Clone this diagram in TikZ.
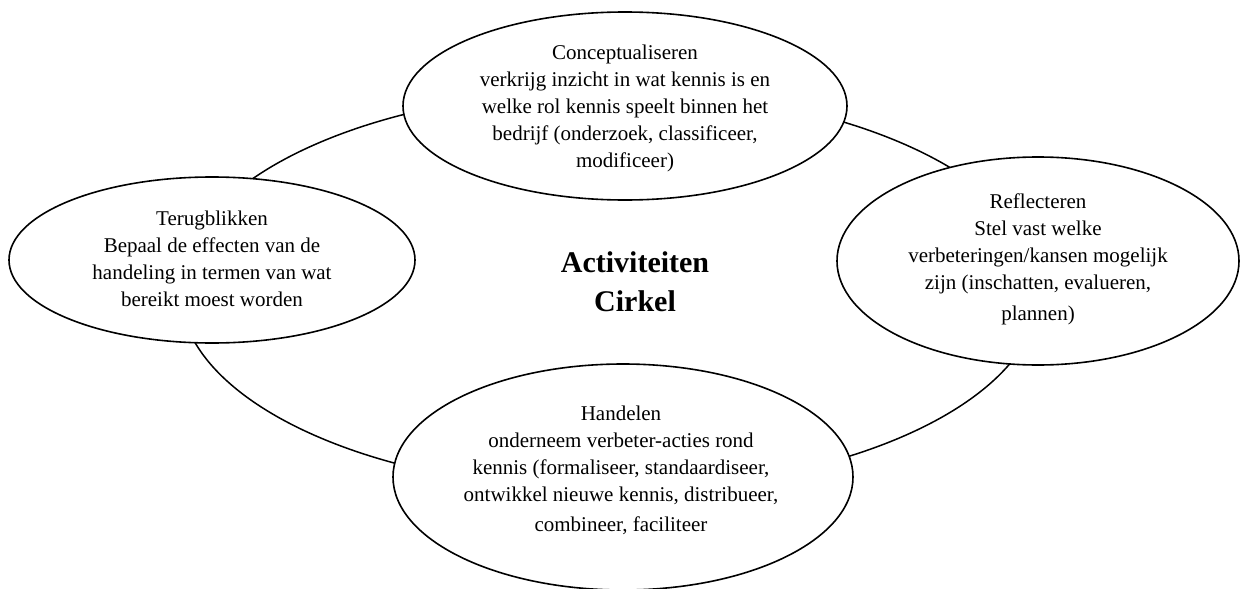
\documentclass[tikz,border=0pt]{standalone}
\usepackage{fontspec}
\setmainfont{Liberation Serif}
\usetikzlibrary{shapes.geometric}
\begin{document}
\begin{tikzpicture}[x=1pt,y=-1pt,
  phase/.style={draw, ellipse, fill=white, line width=1.6pt, inner sep=0pt},
  phasetext/.style={align=center, inner sep=0pt, font=\fontsize{21}{27}\selectfont},
  ring/.style={draw, ellipse, line width=1.5pt, inner sep=0pt}]
\useasboundingbox (0,0) rectangle (1240,589);
% the cycle that joins the four phases
\node[ring, minimum width=860pt, minimum height=400pt] (cycle) at (610,290) {};
% the four phases
\node[phase, minimum width=444pt, minimum height=188pt] (concept) at (625,106) {};
\node[phase, minimum width=406pt, minimum height=166pt] (terug) at (212,260) {};
\node[phase, minimum width=402pt, minimum height=208pt] (reflect) at (1038,261) {};
\node[phase, minimum width=460pt, minimum height=226pt] (handel) at (623,477) {};
\node[phasetext] (concepttxt) at (625,108) {Conceptualiseren\\verkrijg inzicht in wat kennis is en\\welke rol kennis speelt binnen het\\bedrijf (onderzoek, classificeer,\\modificeer)};
\node[phasetext] (terugtxt) at (212,259) {Terugblikken\\Bepaal de effecten van de\\handeling in termen van wat\\bereikt moest worden};
\node[phasetext] (reflecttxt) at (1038,259) {Reflecteren\\Stel vast welke\\verbeteringen/kansen mogelijk\\zijn (inschatten, evalueren,\\[4pt]plannen)};
\node[phasetext] (handeltxt) at (621,470) {Handelen\\onderneem verbeter-acties rond\\kennis (formaliseer, standaardiseer,\\ontwikkel nieuwe kennis, distribueer,\\[3pt]combineer, faciliteer};
% title in the middle
\node[align=center, inner sep=0pt, font=\fontsize{30}{39}\bfseries\selectfont] (title) at (635,282) {Activiteiten\\Cirkel};
\end{tikzpicture}
\end{document}
